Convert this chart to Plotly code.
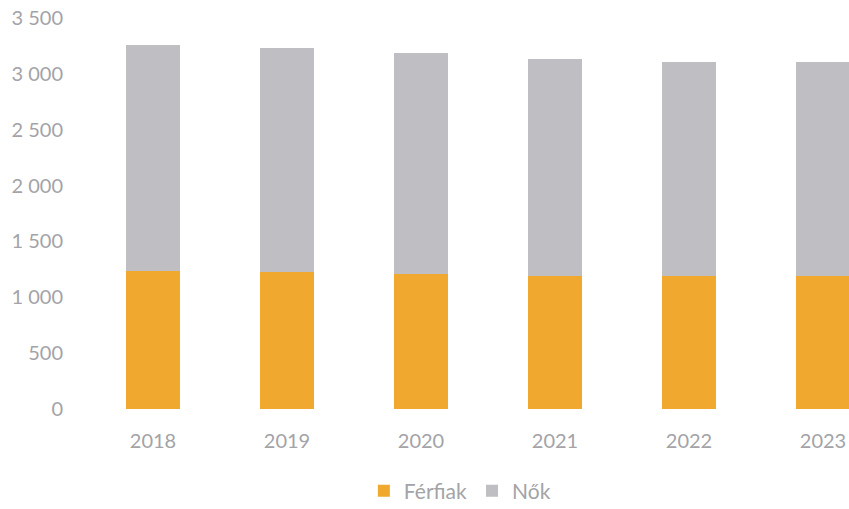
# plot.py — barre impilate Férfiak / Nők per anno (2018–2023).

import plotly.graph_objects as go

YEARS = ["2018", "2019", "2020", "2021", "2022", "2023"]
FERFIAK = [1235, 1226, 1209, 1191, 1193, 1193]
NOK = [2026, 2006, 1981, 1940, 1916, 1911]

ORANGE = "#F0A92E"
GRAY = "#BEBEC3"
TEXT = "#A3A3A8"
FONT = "Lato"

fig = go.Figure()
fig.add_trace(go.Bar(
    x=YEARS, y=FERFIAK, name="Férfiak",
    marker=dict(color=ORANGE, line=dict(width=0)),
))
fig.add_trace(go.Bar(
    x=YEARS, y=NOK, name="Nők",
    marker=dict(color=GRAY, line=dict(width=0)),
))

fig.update_layout(
    barmode="stack", bargap=0.6,
    width=849, height=509,
    margin=dict(l=86, r=0, t=18, b=100, autoexpand=False),
    paper_bgcolor="white", plot_bgcolor="white",
    font=dict(family=FONT, color=TEXT, size=20),
    xaxis=dict(
        type="category", range=[-0.5, 5.194], automargin=False,
        showgrid=False, zeroline=False, showline=False,
        ticks="", ticklabelstandoff=18,
        tickfont=dict(size=20, color=TEXT),
    ),
    yaxis=dict(
        range=[0, 3500], automargin=False,
        tickvals=[0, 500, 1000, 1500, 2000, 2500, 3000, 3500],
        ticktext=["0", "500", "1 000", "1 500", "2 000", "2 500", "3 000", "3 500"],
        showgrid=False, zeroline=False, showline=False,
        ticks="", ticklabelstandoff=22,
        tickfont=dict(size=20, color=TEXT),
    ),
    legend=dict(
        orientation="h", x=0.49, xanchor="center", y=-0.21, yanchor="middle",
        font=dict(size=21, color=TEXT), bgcolor="rgba(0,0,0,0)",
        traceorder="normal",
    ),
    showlegend=True,
)

# niente margine di default del body, così la figura riempie la finestra
fig.write_html(
    "out.html",
    config={"displayModeBar": False},
    post_script="document.body.style.margin = '0';",
)
